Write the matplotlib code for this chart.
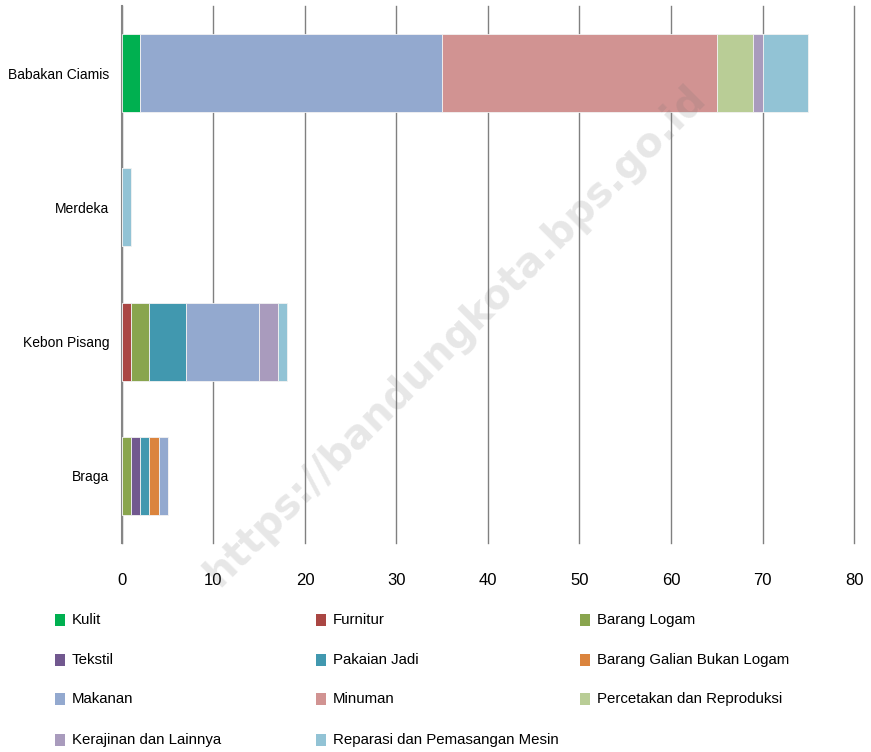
import matplotlib.pyplot as plt
from matplotlib.patches import Rectangle
import numpy as np

# Data
categories = ["Braga", "Kebon Pisang", "Merdeka", "Babakan Ciamis"]
series_names = ["Kulit", "Furnitur", "Barang Logam", "Tekstil", "Pakaian Jadi",
                "Barang Galian Bukan Logam", "Makanan", "Minuman",
                "Percetakan dan Reproduksi", "Kerajinan dan Lainnya",
                "Reparasi dan Pemasangan Mesin"]
kulit = [0, 0, 0, 2]
furnitur = [0, 1, 0, 0]
barang_logam = [1, 2, 0, 0]
tekstil = [1, 0, 0, 0]
pakaian_jadi = [1, 4, 0, 0]
barang_galian = [1, 0, 0, 0]
makanan = [1, 8, 0, 33]
minuman = [0, 0, 0, 30]
percetakan = [0, 0, 0, 4]
kerajinan = [0, 2, 0, 1]
reparasi = [0, 1, 1, 5]
series_values = [kulit, furnitur, barang_logam, tekstil, pakaian_jadi,
                 barang_galian, makanan, minuman, percetakan, kerajinan, reparasi]
colors = ["#00B050", "#AA4643", "#89A54E", "#71588F", "#4198AF", "#DB843D",
          "#93A9CF", "#D19392", "#B9CD96", "#A99BBD", "#92C3D5"]
xticks = [0, 10, 20, 30, 40, 50, 60, 70, 80]

plt.rcParams["font.family"] = ["Liberation Sans", "DejaVu Sans"]

fig = plt.figure(figsize=(8.71, 7.52), dpi=100)
ax = fig.add_axes([0.140, 0.278, 0.8405, 0.714])

y = np.arange(len(categories))
left = np.zeros(len(categories))
for name, vals, col in zip(series_names, series_values, colors):
    ax.barh(y, vals, left=left, height=0.58, color=col,
            edgecolor="#F2F2F2", linewidth=0.6, label=name, zorder=3)
    left += np.array(vals)

ax.set_xlim(0, 80)
ax.set_ylim(-0.5, len(categories) - 0.5)
ax.set_xticks(xticks)
ax.set_xticklabels([str(t) for t in xticks], fontsize=12)
ax.set_yticks(y)
ax.set_yticklabels(categories, fontsize=10)
ax.tick_params(axis="y", length=0, pad=9)
ax.tick_params(axis="x", length=0, pad=22)
ax.xaxis.grid(True, color="#808080", linewidth=1.0, zorder=0)
for line in ax.get_xgridlines():
    line.set_clip_on(False)
for side in ["top", "right", "bottom"]:
    ax.spines[side].set_visible(False)
ax.spines["left"].set_color("#868686")
ax.spines["left"].set_linewidth(1.5)

# watermark
fig.text(0.523, 0.553, "https://bandungkota.bps.go.id", rotation=45,
         fontsize=29, fontweight="bold", color="#707070", alpha=0.17,
         ha="center", va="center", family="DejaVu Sans", zorder=5)

# legend, row-wise, placed by hand
W, H = 871.0, 752.0
col_x = [55, 316, 580]
row_y = [620, 660, 699, 740]
for i, (name, col) in enumerate(zip(series_names, colors)):
    r, c = divmod(i, 3)
    px, py = col_x[c], row_y[r]
    fig.add_artist(Rectangle((px / W, 1 - (py + 6) / H), 10 / W, 12 / H,
                             facecolor=col, edgecolor="none",
                             transform=fig.transFigure))
    fig.text((px + 17) / W, 1 - py / H, name, fontsize=10.8,
             ha="left", va="center")

plt.savefig("out.png", dpi=100)
